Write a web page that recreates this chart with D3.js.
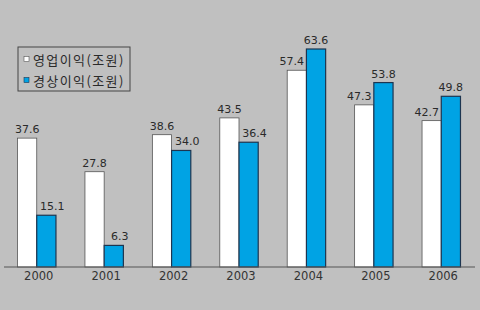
<!DOCTYPE html>
<html>
<head>
<meta charset="utf-8">
<script src="https://cdn.jsdelivr.net/npm/d3@7"></script>
<style>
  html, body { margin: 0; padding: 0; background: #c0c0c0; }
  svg { display: block; }
</style>
</head>
<body>
<div id="chart"></div>
<script>
// 데이터
const years = ["2000", "2001", "2002", "2003", "2004", "2005", "2006"];
const seriesNames = ["영업이익(조원)", "경상이익(조원)"];
const operating = [37.6, 27.8, 38.6, 43.5, 57.4, 47.3, 42.7];
const ordinary = [15.1, 6.3, 34.0, 36.4, 63.6, 53.8, 49.8];

const width = 480, height = 310;
const colors = ["#ffffff", "#00a3e4"];
const strokes = ["#555555", "#1d3550"];

const svg = d3.select("#chart").append("svg")
  .attr("width", width)
  .attr("height", height)
  .style("background", "#c0c0c0");

// 스케일
const x = d3.scaleBand().domain(years).range([0, 478])
  .paddingInner(0.43).paddingOuter(0.26);
const x1 = d3.scaleBand().domain([0, 1]).range([0, x.bandwidth()]);
const y = d3.scaleLinear().domain([0, 63.6]).range([267, 49]);

const rows = years.map((yr, i) => ({ year: yr, vals: [operating[i], ordinary[i]] }));

const group = svg.append("g").selectAll("g")
  .data(rows)
  .join("g")
  .attr("transform", d => `translate(${x(d.year)},0)`);

// 막대
group.selectAll("rect")
  .data(d => d.vals.map((v, k) => ({ v, k, other: d.vals[1 - k] })))
  .join("rect")
  .attr("x", d => x1(d.k))
  .attr("y", d => y(d.v))
  .attr("width", x1.bandwidth())
  .attr("height", d => y(0) - y(d.v))
  .attr("fill", d => colors[d.k])
  .attr("stroke", d => strokes[d.k])
  .attr("stroke-width", d => d.k === 0 ? 0.8 : 1.2);

// 값 라벨 (낮은 막대 라벨은 바깥쪽으로 조금 이동)
group.selectAll("text.val")
  .data(d => d.vals.map((v, k) => ({ v, k, other: d.vals[1 - k] })))
  .join("text")
  .attr("class", "val")
  .attr("x", d => {
    const cx = x1(d.k) + x1.bandwidth() / 2;
    if (d.v < d.other) return cx + (d.k === 0 ? -5 : 6);
    return cx;
  })
  .attr("y", d => y(d.v) - 5)
  .attr("text-anchor", "middle")
  .attr("fill", "#2a2a2a")
  .style("font-family", "DejaVu Sans, sans-serif")
  .style("font-size", "11px")
  .text(d => d.v.toFixed(1));

// x축
const axis = svg.append("g")
  .attr("transform", `translate(0,${y(0)})`)
  .call(d3.axisBottom(x).tickSize(0).tickPadding(5));
axis.select(".domain").remove();
axis.append("line")
  .attr("x1", 4).attr("x2", 475)
  .attr("stroke", "#555").attr("stroke-width", 1.2);
axis.selectAll(".tick text")
  .attr("fill", "#333")
  .attr("dx", 2)
  .style("font-family", "DejaVu Sans, sans-serif")
  .style("font-size", "11.5px");

// 범례
const legend = svg.append("g").attr("transform", "translate(18,47)");
legend.append("rect")
  .attr("width", 112).attr("height", 44)
  .attr("fill", "none").attr("stroke", "#444").attr("stroke-width", 1);
seriesNames.forEach((name, i) => {
  const row = legend.append("g").attr("transform", `translate(0,${12 + i * 21})`);
  row.append("rect")
    .attr("x", 6).attr("y", -2.5).attr("width", 5).attr("height", 5)
    .attr("fill", colors[i]).attr("stroke", strokes[i]).attr("stroke-width", 0.6);
  row.append("text")
    .attr("x", 15).attr("y", 0)
    .attr("dominant-baseline", "central")
    .attr("fill", "#2a2a2a")
    .style("font-family", "Noto Sans CJK KR, sans-serif")
    .style("font-size", "13px")
    .style("letter-spacing", "1.4px")
    .text(name);
});
</script>
</body>
</html>
